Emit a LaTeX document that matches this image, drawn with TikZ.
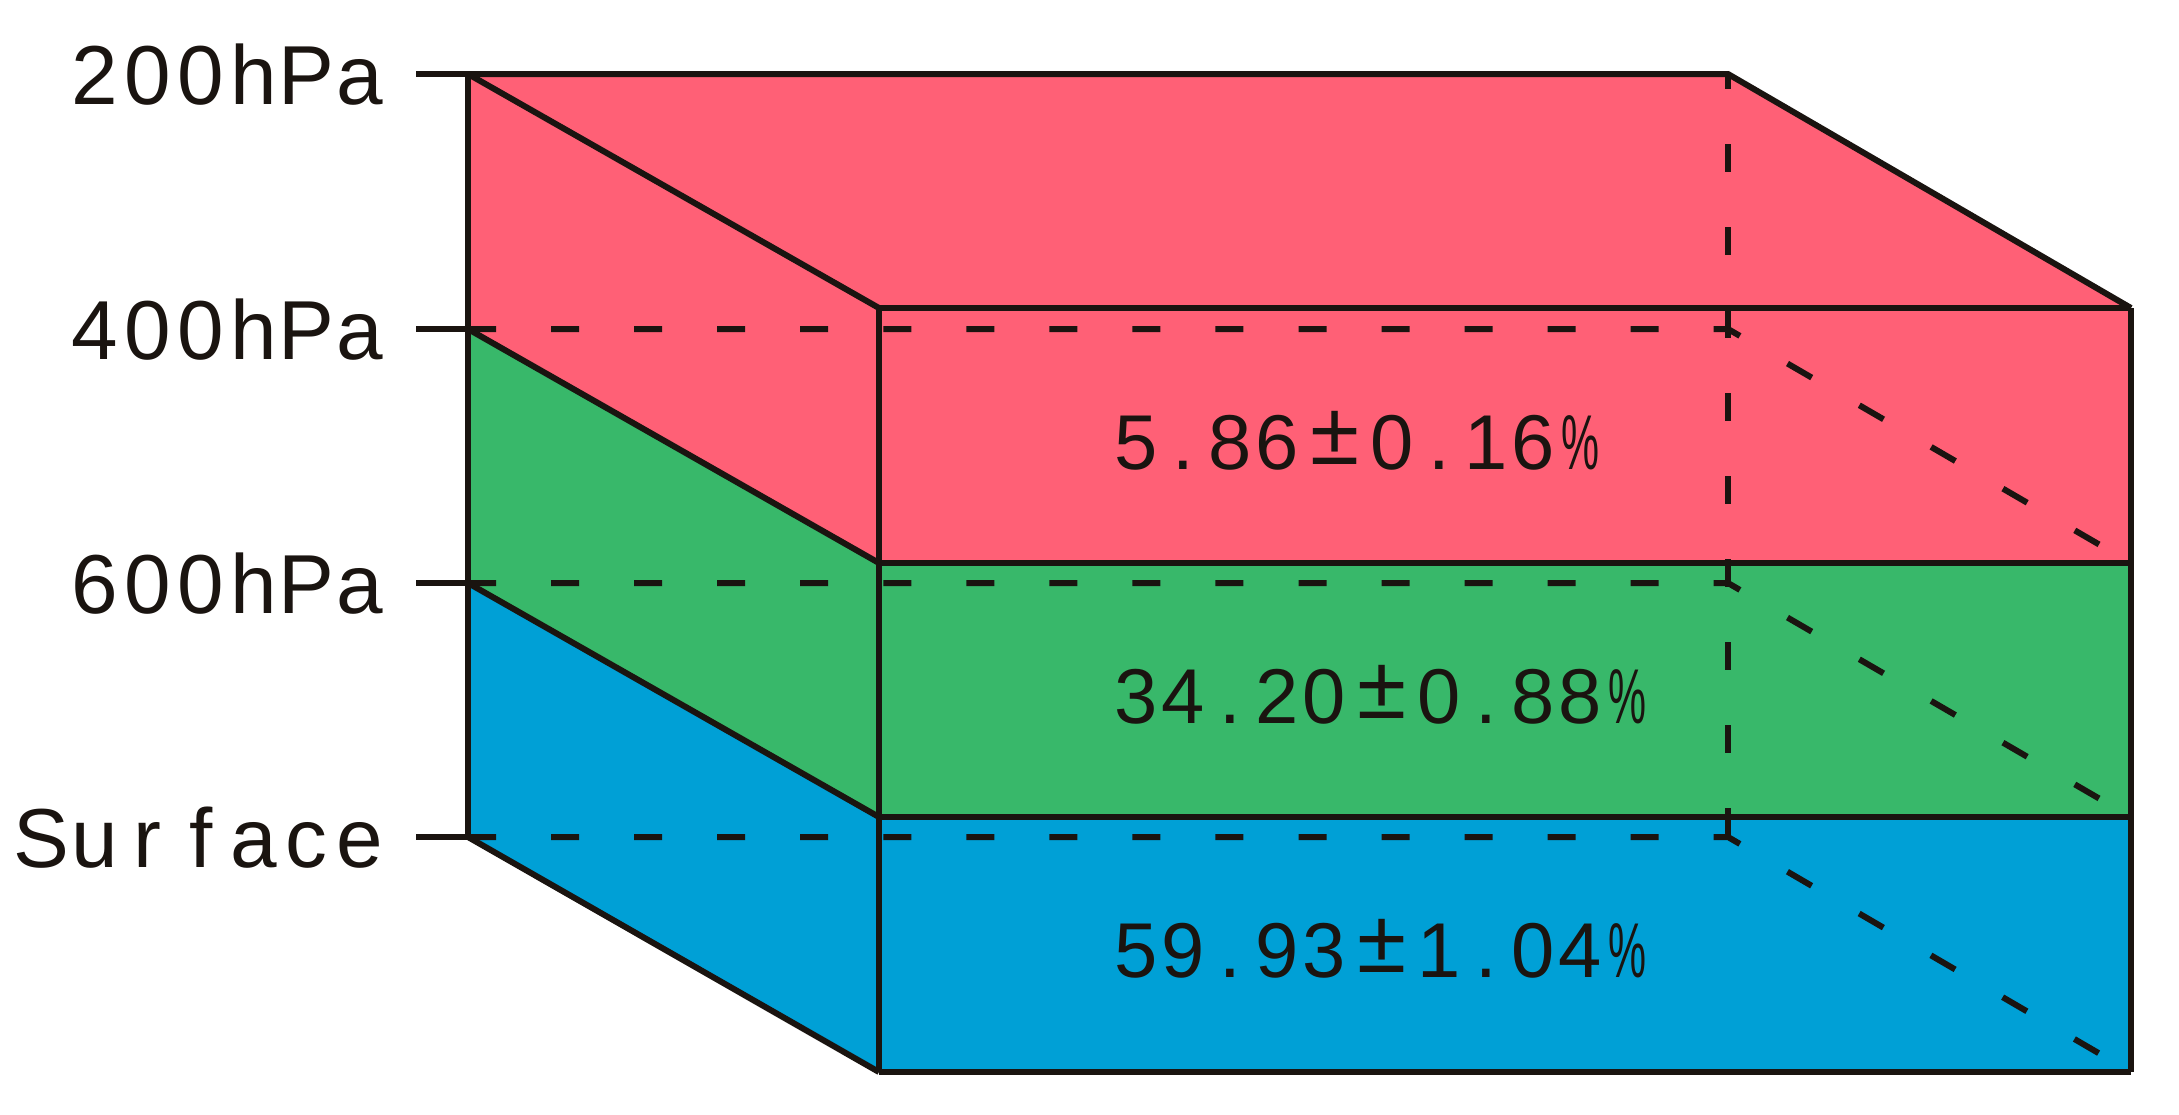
\documentclass[tikz,border=0pt]{standalone}
\usepackage{fontspec}
\usepackage{graphicx}
\setmainfont{Liberation Sans}
\definecolor{redL}{RGB}{255,96,118}
\definecolor{greenL}{RGB}{56,184,106}
\definecolor{blueL}{RGB}{0,160,214}
\definecolor{ink}{RGB}{26,20,16}
\def\mend{MEND}
\def\mcw{0.5cm}
\def\pct{\scalebox{0.55}[1]{\%}}
\def\pm{\raisebox{0.07em}{\scalebox{1.15}{±}}}
\def\mtext#1#2{\def\mcw{#1}\mloop#2\mend}
\def\mloop#1{\ifx#1\mend\else\mcell{#1}\expandafter\mloop\fi}
\def\mcell#1{\ifx#1\pm\makebox[0.68cm]{#1}\else\makebox[\mcw]{#1}\fi}
\tikzset{
  edge/.style={draw=ink, line width=0.06cm},
  hidden/.style={draw=ink, line width=0.06cm, dash pattern=on 0.28cm off 0.55cm},
  lvl/.style={anchor=east, inner sep=0pt, text=ink, font=\fontsize{23.8}{28}\selectfont},
  val/.style={anchor=west, inner sep=0pt, text=ink, font=\fontsize{22.1}{26}\selectfont}
}
\begin{document}
\begin{tikzpicture}[x=0.01cm,y=-0.01cm]
\useasboundingbox (0,0) rectangle (2179,1114);
% back-left
\coordinate (B0) at (468,74);
\coordinate (B1) at (468,329);
\coordinate (B2) at (468,583);
\coordinate (B3) at (468,837);
% back-right
\coordinate (K0) at (1728,74);
\coordinate (K1) at (1728,329);
\coordinate (K2) at (1728,583);
\coordinate (K3) at (1728,837);
% front-left
\coordinate (F0) at (879,308);
\coordinate (F1) at (879,563);
\coordinate (F2) at (879,817);
\coordinate (F3) at (879,1072);
% front-right
\coordinate (R0) at (2131,308);
\coordinate (R1) at (2131,563);
\coordinate (R2) at (2131,817);
\coordinate (R3) at (2131,1072);
% tick starts
\coordinate (T0) at (416,74);
\coordinate (T1) at (416,329);
\coordinate (T2) at (416,583);
\coordinate (T3) at (416,837);
% fills
\fill[redL] (B0) -- (K0) -- (R0) -- (R1) -- (F1) -- (B1) -- cycle;
\fill[greenL] (B1) -- (F1) -- (R1) -- (R2) -- (F2) -- (B2) -- cycle;
\fill[blueL] (B2) -- (F2) -- (R2) -- (R3) -- (F3) -- (B3) -- cycle;
% hidden edges
\draw[hidden] (B1) -- (K1) -- (R1);
\draw[hidden] (B2) -- (K2) -- (R2);
\draw[hidden] (B3) -- (K3) -- (R3);
\draw[hidden, dash phase=0.13cm] (K0) -- (K3);
% visible edges
\foreach \i in {0,1,2,3} {
  \draw[edge] (T\i) -- (B\i);
  \draw[edge] (B\i) -- (F\i);
  \draw[edge] (F\i) -- (R\i);
}
\draw[edge] (B0) -- (B3);
\draw[edge, line join=miter] (B0) -- (K0) -- (R0);
\draw[edge] (F0) -- (F3);
\draw[edge] (R0) -- (R3);
% labels
\node[lvl] (l200) at (387,75) {\mtext{0.53cm}{200hPa}};
\node[lvl] (l400) at (387,330) {\mtext{0.53cm}{400hPa}};
\node[lvl] (l600) at (387,584) {\mtext{0.53cm}{600hPa}};
\node[lvl] (lsurf) at (387,838) {\mtext{0.53cm}{Surface}};
% values
\node[val] (v1) at (1112,441) {\mtext{0.47cm}{5.86\pm0.16\pct}};
\node[val] (v2) at (1112,695) {\mtext{0.47cm}{34.20\pm0.88\pct}};
\node[val] (v3) at (1112,949) {\mtext{0.47cm}{59.93\pm1.04\pct}};
\end{tikzpicture}
\end{document}
